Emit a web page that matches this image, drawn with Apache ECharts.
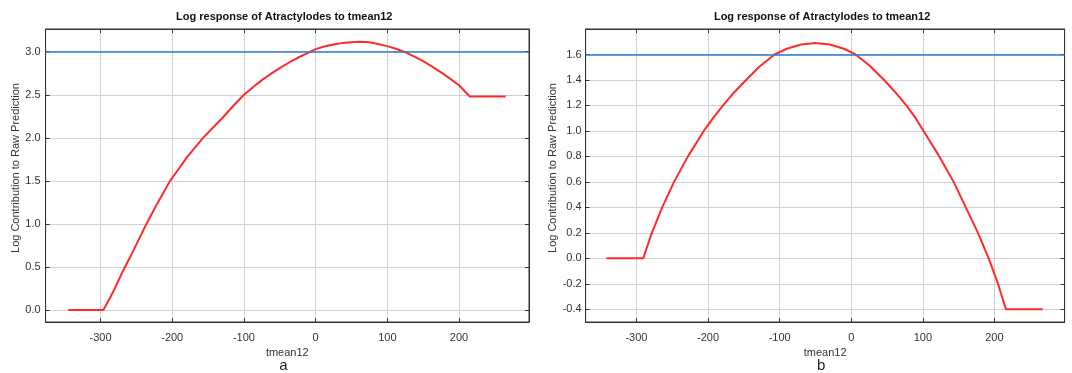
<!DOCTYPE html>
<html>
<head>
<meta charset="utf-8">
<script src="https://cdn.jsdelivr.net/npm/echarts@6/dist/echarts.min.js"></script>
<style>
html,body{margin:0;padding:0;background:#fff;}
#chart{width:1072px;height:373px;}
</style>
</head>
<body>
<div id="chart"></div>
<script>
// ---- data ----
const chartTitle = 'Log response of Atractylodes to tmean12';
const xName = 'tmean12';
const yName = 'Log Contribution to Raw Prediction';
const panelLabels = ['a', 'b'];
const xTicks = [-300, -200, -100, 0, 100, 200];
const yTicksA = [0, 0.5, 1.0, 1.5, 2.0, 2.5, 3.0];
const yTicksB = [-0.4, -0.2, 0, 0.2, 0.4, 0.6, 0.8, 1.0, 1.2, 1.4, 1.6];
const xRangeA = [-376.6, 297.6];
const yRangeA = [-0.139, 3.264];
const xRangeB = [-371, 298];
const yRangeB = [-0.5, 1.8];
const refLineA = 3.0;
const refLineB = 1.6;
const curveA_x = [-345, -296, -283, -270, -253, -236, -220, -203, -190, -180, -168, -157, -143, -130, -115, -100, -87, -75, -62, -50, -37, -25, -12, 0, 12, 25, 37, 50, 62, 75, 87, 100, 112, 125, 137, 150, 162, 175, 187, 200, 207, 215, 265];
const curveA_y = [0, 0, 0.2, 0.43, 0.71, 1.0, 1.25, 1.5, 1.65, 1.77, 1.89, 2.0, 2.12, 2.23, 2.37, 2.5, 2.59, 2.67, 2.745, 2.81, 2.875, 2.93, 2.98, 3.03, 3.06, 3.085, 3.10, 3.11, 3.115, 3.11, 3.09, 3.065, 3.035, 2.995, 2.945, 2.89, 2.83, 2.76, 2.69, 2.61, 2.55, 2.48, 2.48];
const curveB_x = [-342, -290.5, -278.5, -264, -247.5, -228, -206, -193, -179, -164, -147, -128, -107, -90, -70, -50, -30, -10, 6, 25, 46, 62, 77, 90, 101, 123, 143, 160, 177, 192, 205, 216, 267.5];
const curveB_y = [0, 0, 0.2, 0.4, 0.6, 0.8, 1.0, 1.1, 1.2, 1.3, 1.4, 1.505, 1.6, 1.645, 1.678, 1.69, 1.678, 1.645, 1.6, 1.515, 1.4, 1.3, 1.2, 1.1, 1.0, 0.8, 0.6, 0.4, 0.2, 0.0, -0.2, -0.4, -0.4];

const FONT = 'Liberation Sans, Arial, sans-serif';
const chart = echarts.init(document.getElementById('chart'), null, {renderer: 'canvas'});

const grids = [
  {left: 45.6, top: 29, width: 483.4, height: 293},
  {left: 585.6, top: 29, width: 479, height: 293}
];
const xRanges = [xRangeA, xRangeB];
const yRanges = [yRangeA, yRangeB];
const yTicks = [yTicksA, yTicksB];
const yFmt = [v => v.toFixed(1), v => v.toFixed(1)];
const yNameGap = [21, 25];
const yLabelMargin = [5, 4];

const xAxes = [], yAxes = [], series = [];
grids.forEach((g, i) => {
  xAxes.push({
    type: 'value', gridIndex: i, position: 'bottom',
    min: xRanges[i][0], max: xRanges[i][1],
    name: xName, nameLocation: 'middle', nameGap: 25,
    nameTextStyle: {fontFamily: FONT, fontSize: 11, color: '#333'},
    axisLine: {show: true, onZero: false, lineStyle: {color: '#333', width: 1}},
    axisTick: {show: true, inside: true, length: 4, customValues: xTicks, lineStyle: {color: '#333'}},
    axisLabel: {customValues: xTicks, margin: 10, fontFamily: FONT, fontSize: 11, color: '#333', formatter: v => String(v)},
    splitLine: {show: true, customValues: xTicks, lineStyle: {color: '#d0d0d0', width: 1}}
  });
  xAxes.push({
    type: 'value', gridIndex: i, position: 'top',
    min: xRanges[i][0], max: xRanges[i][1],
    axisLine: {show: true, onZero: false, lineStyle: {color: '#333', width: 1}},
    axisTick: {show: true, inside: true, length: 4, customValues: xTicks, lineStyle: {color: '#333'}},
    axisLabel: {show: false},
    splitLine: {show: false}
  });
  yAxes.push({
    type: 'value', gridIndex: i, position: 'left',
    min: yRanges[i][0], max: yRanges[i][1],
    name: yName, nameLocation: 'middle', nameRotate: 90, nameGap: yNameGap[i],
    nameTextStyle: {fontFamily: FONT, fontSize: 11, color: '#333', padding: [0, 0, 0, 15]},
    axisLine: {show: true, onZero: false, lineStyle: {color: '#333', width: 1}},
    axisTick: {show: true, inside: true, length: 4, customValues: yTicks[i], lineStyle: {color: '#333'}},
    axisLabel: {customValues: yTicks[i], margin: yLabelMargin[i], fontFamily: FONT, fontSize: 11, color: '#333', formatter: yFmt[i]},
    splitLine: {show: true, customValues: yTicks[i], lineStyle: {color: '#d0d0d0', width: 1}}
  });
  yAxes.push({
    type: 'value', gridIndex: i, position: 'right',
    min: yRanges[i][0], max: yRanges[i][1],
    axisLine: {show: true, onZero: false, lineStyle: {color: '#333', width: 1}},
    axisTick: {show: true, inside: true, length: 4, customValues: yTicks[i], lineStyle: {color: '#333'}},
    axisLabel: {show: false},
    splitLine: {show: false}
  });
});

const curves = [[curveA_x, curveA_y], [curveB_x, curveB_y]];
const refs = [refLineA, refLineB];
curves.forEach((c, i) => {
  series.push({
    type: 'line', xAxisIndex: i * 2, yAxisIndex: i * 2, data: [], silent: true, z: 2,
    markLine: {
      silent: true, symbol: 'none', animation: false,
      label: {show: false},
      lineStyle: {color: '#2a7dc4', width: 1.5, type: 'solid'},
      data: [{yAxis: refs[i]}]
    }
  });
  series.push({
    type: 'line', xAxisIndex: i * 2, yAxisIndex: i * 2, z: 3,
    data: c[0].map((x, k) => [x, c[1][k]]),
    showSymbol: false, smooth: false, animation: false,
    lineStyle: {color: '#ff2a2a', width: 2}
  });
});

const titles = [];
grids.forEach((g, i) => {
  const cx = g.left + g.width / 2;
  titles.push({
    text: chartTitle, left: cx - 3, top: 11, textAlign: 'center', padding: 0,
    textStyle: {fontFamily: FONT, fontSize: 11, fontWeight: 'bold', color: '#111'}
  });
  titles.push({
    text: panelLabels[i], left: cx - 4, top: 358, textAlign: 'center', padding: 0,
    textStyle: {fontFamily: FONT, fontSize: 15, fontWeight: 'normal', color: '#222'}
  });
});

chart.setOption({
  animation: false,
  backgroundColor: '#fff',
  title: titles,
  grid: grids.map(g => Object.assign({show: true, borderColor: '#333', borderWidth: 1, containLabel: false}, g)),
  xAxis: xAxes,
  yAxis: yAxes,
  series: series
});
</script>
</body>
</html>
